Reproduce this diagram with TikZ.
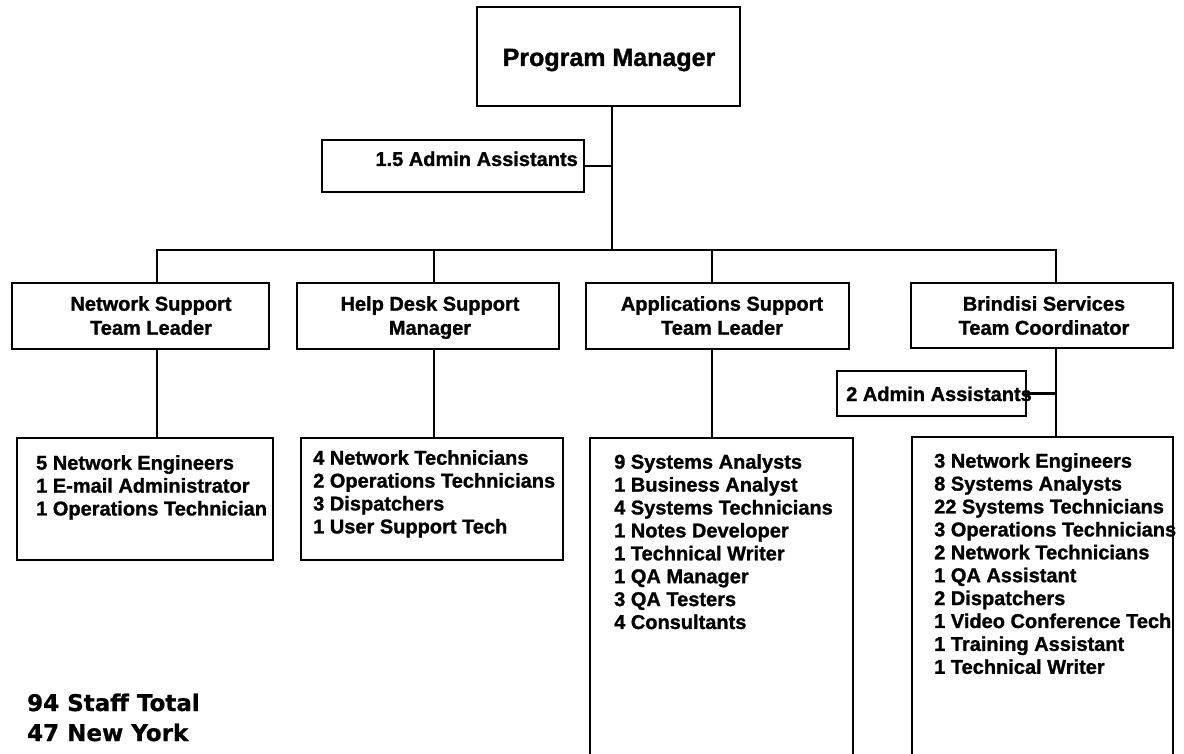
\documentclass[tikz,border=0pt]{standalone}
\usepackage{fontspec}
\setmainfont{Liberation Sans}[BoldFeatures={FakeBold=1.2}]
\newfontfamily\totalsfont{DejaVu Sans}[BoldFeatures={FakeBold=0.8}]
\begin{document}
\begin{tikzpicture}[x=1pt,y=-1pt,
  box/.style={draw, line width=2.2pt, inner sep=0pt, outer sep=0pt, anchor=north west},
  wire/.style={line width=2.2pt},
  title/.style={font=\fontsize{20}{24}\selectfont\bfseries, align=center, inner sep=0pt, anchor=north},
  list/.style={font=\fontsize{20}{22.9}\selectfont\bfseries, align=left, inner sep=0pt, anchor=north west},
  single/.style={font=\fontsize{20}{24}\selectfont\bfseries, inner sep=0pt},
  total/.style={font=\totalsfont\fontsize{23}{28}\selectfont\bfseries, inner sep=0pt, anchor=base west}]
\path[use as bounding box, clip] (0,0) rectangle (1184,754);

% --- top of the chart
\node[box, minimum width=263pt, minimum height=99pt] (pm) at (477,7) {};
\node[font=\fontsize{25}{30}\selectfont\bfseries, inner sep=0pt, anchor=base] (pmt) at (609,66) {Program Manager};

\node[box, minimum width=262pt, minimum height=52pt] (adm) at (322,140) {};
\node[single, anchor=base east] (admt) at (578,166) {1.5 Admin Assistants};

% --- team leads
\node[box, minimum width=257pt, minimum height=66pt] (ns) at (12,283) {};
\node[box, minimum width=262pt, minimum height=66pt] (hd) at (297,283) {};
\node[box, minimum width=263pt, minimum height=66pt] (ap) at (586,283) {};
\node[box, minimum width=262pt, minimum height=65pt] (br) at (911,283) {};

\node[title] (nst) at (151,296) {Network Support\\Team Leader};
\node[title] (hdt) at (430,296) {Help Desk Support\\Manager};
\node[title] (apt) at (722,296) {Applications Support\\Team Leader};
\node[title] (brt) at (1044,296) {Brindisi Services\\Team Coordinator};

% --- Brindisi admin support
\node[box, minimum width=189pt, minimum height=45pt] (badm) at (837,371) {};
\node[single, anchor=base west] (badmt) at (846,401) {2 Admin Assistants};

% --- staff lists
\node[box, minimum width=256pt, minimum height=122pt] (nsl) at (17,438) {};
\node[box, minimum width=262pt, minimum height=122pt] (hdl) at (301,438) {};
\node[box, minimum width=263pt, minimum height=340pt] (apl) at (590,438) {};
\node[box, minimum width=261pt, minimum height=340pt] (brl) at (912,437) {};

\node[list] (nslt) at (36,455) {5 Network Engineers\\1 E-mail Administrator\\1 Operations Technician};
\node[list] (hdlt) at (313,450) {4 Network Technicians\\2 Operations Technicians\\3 Dispatchers\\1 User Support Tech};
\node[list] (aplt) at (614,454) {9 Systems Analysts\\1 Business Analyst\\4 Systems Technicians\\1 Notes Developer\\1 Technical Writer\\1 QA Manager\\3 QA Testers\\4 Consultants};
\node[list] (brlt) at (934,453) {3 Network Engineers\\8 Systems Analysts\\22 Systems Technicians\\3 Operations Technicians\\2 Network Technicians\\1 QA Assistant\\2 Dispatchers\\1 Video Conference Tech\\1 Training Assistant\\1 Technical Writer};

% --- totals
\node[total] (tot) at (27,711) {94 Staff Total};
\node[total] (ny) at (27,741) {47 New York};

% --- connectors
\coordinate (trunk) at (612,250);
\coordinate (busL) at (157,250);
\coordinate (busHD) at (434,250);
\coordinate (busAP) at (712,250);
\coordinate (busR) at (1056,250);

\draw[wire] (pm.south -| trunk) -- (trunk);
\draw[wire] (adm.east) -- (adm.east -| trunk);
\draw[wire] (busL |- ns.north) -- (busL) -- (busR) -- (busR |- br.north);
\draw[wire] (busHD) -- (busHD |- hd.north);
\draw[wire] (busAP) -- (busAP |- ap.north);

\draw[wire] (busL |- ns.south) -- (busL |- nsl.north);
\draw[wire] (busHD |- hd.south) -- (busHD |- hdl.north);
\draw[wire] (busAP |- ap.south) -- (busAP |- apl.north);
\draw[wire] (busR |- br.south) -- (busR |- brl.north);
\draw[wire] (badm.east) -- (badm.east -| busR);
\end{tikzpicture}
\end{document}
